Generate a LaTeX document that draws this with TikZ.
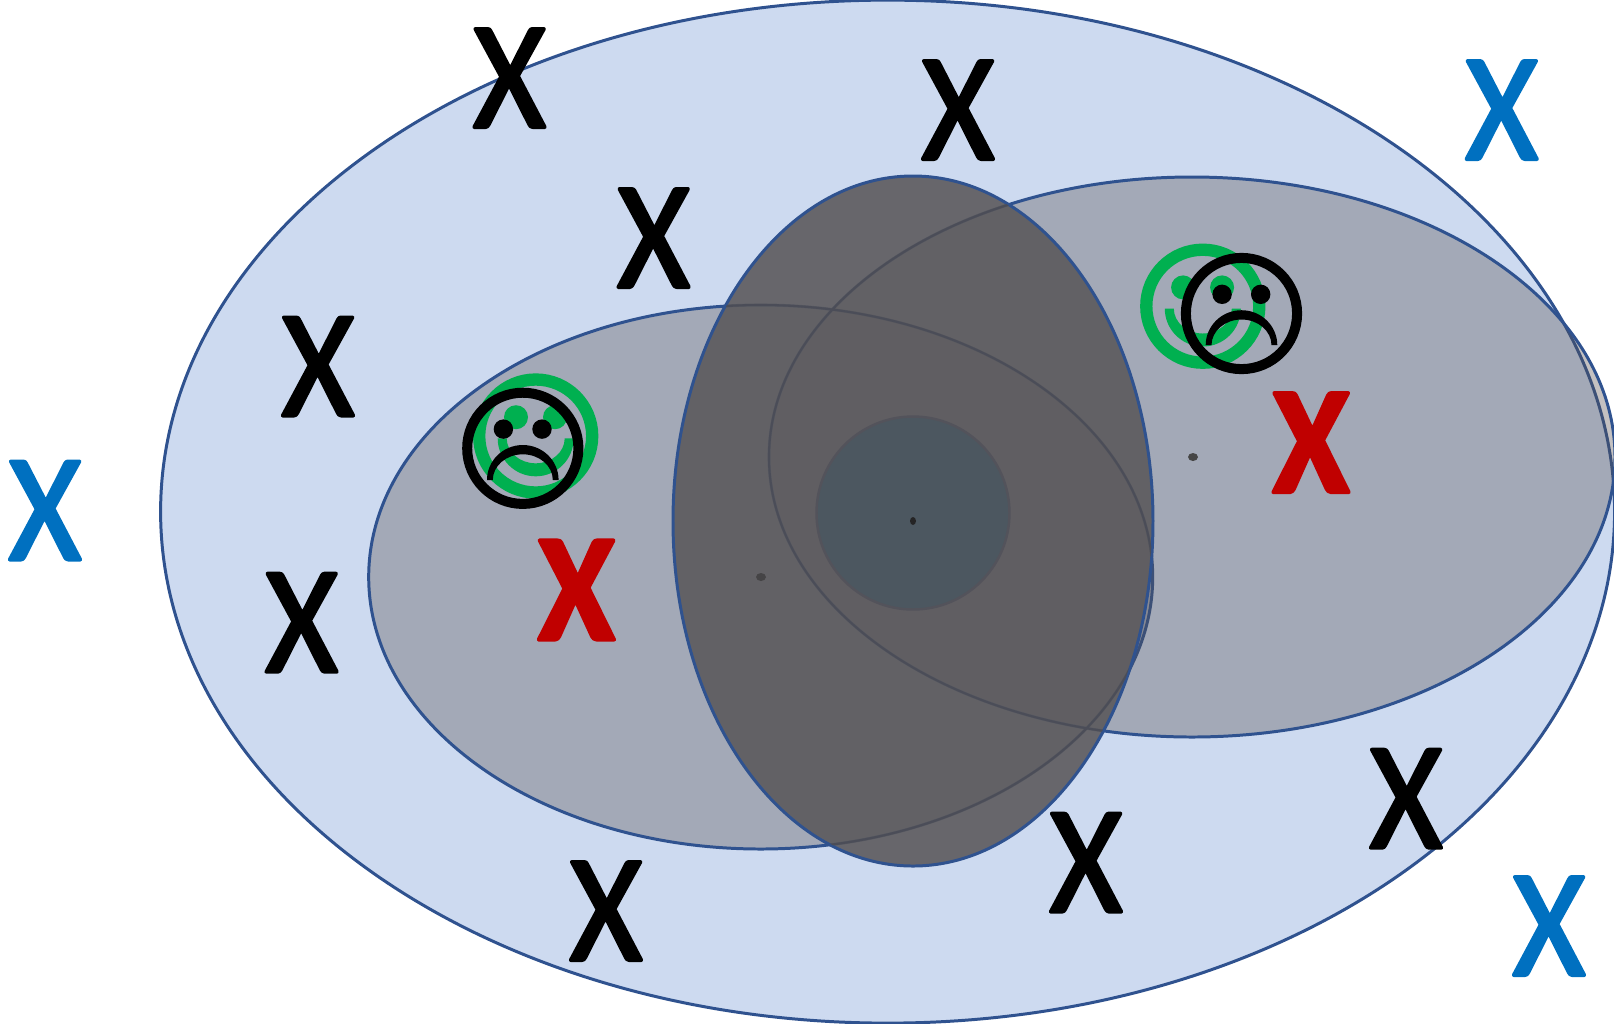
\documentclass[tikz,border=0pt]{standalone}
\usepackage{fontspec}
\setmainfont{Carlito}
\newfontfamily\markfont{Carlito}[FakeBold=2.5]
\newfontfamily\redfont{Carlito Bold}[FakeBold=2.5]
\usepackage{xcolor}
\definecolor{setline}{HTML}{2F528F}
\definecolor{setfill}{HTML}{CDDAF0}
\definecolor{markblue}{HTML}{0070C0}
\definecolor{markred}{HTML}{C00000}
\definecolor{facegreen}{HTML}{00B050}
\definecolor{shade}{HTML}{554E4D}
\definecolor{core}{HTML}{5C5A5D}
\definecolor{inner}{HTML}{204A5C}
\definecolor{hidden}{HTML}{4B4D58}
\usetikzlibrary{positioning}
\tikzset{
  region/.style={draw=setline,line width=0.85pt},
  shaded/.style={region,fill=shade,fill opacity=0.35},
  xmark/.style={inner sep=0pt,xscale=0.91,font=\fontsize{43.5}{43.5}\markfont\special{pdf:code 1 j}},
  xbold/.style={xmark,text=markred,font=\fontsize{43.5}{43.5}\redfont\special{pdf:code 1 j}},
  pics/happy/.style={code={
    \draw[facegreen,line width=3.5pt] (0,0) circle[radius=56.5];
    \fill[facegreen] (-19.7,-18.8) circle[radius=12] (19.3,-18.8) circle[radius=12];
    \fill[facegreen] (-38,2.3) arc[start angle=180,end angle=0,x radius=38,y radius=38]
      -- (29,2.3) arc[start angle=0,end angle=180,x radius=29,y radius=25] -- cycle;
  }},
  pics/sad/.style={code={
    \draw[black,line width=2.85pt] (0,0) circle[radius=55.6];
    \fill[black] (-19.4,-19.2) circle[radius=9.7] (19.2,-19.2) circle[radius=9.7];
    \fill[black] (-35.8,31.7) arc[start angle=180,end angle=360,x radius=35.8,y radius=35]
      -- (30,31.7) arc[start angle=360,end angle=180,x radius=30,y radius=25.7] -- cycle;
  }}
}
\begin{document}
\begin{tikzpicture}[x=0.01cm,y=-0.01cm]
\useasboundingbox (0,0) rectangle (1614,1023);
\clip (0,0) rectangle (1614,1023);
% sets
\draw[region,fill=setfill] (887.6,511.6) ellipse[x radius=727,y radius=511.5];
\draw[shaded] (760.7,577) ellipse[x radius=392,y radius=272];
\draw[shaded] (1192,457) ellipse[x radius=423,y radius=280];
\draw[region,fill=core,fill opacity=0.9] (913,521) ellipse[x radius=240,y radius=345];
\begin{scope}
  \clip (913,521) ellipse[x radius=239,y radius=344];
  \draw[hidden,line width=0.6pt] (760.7,577) ellipse[x radius=392,y radius=272];
  \draw[hidden,line width=0.6pt] (1192,457) ellipse[x radius=423,y radius=280];
\end{scope}
\draw[draw=hidden!50!core,line width=0.7pt,fill=inner,fill opacity=0.3] (913,513) circle[radius=96.5];
% centre points
\fill[black!25!core] (761,577) ellipse[x radius=5,y radius=4];
\fill[black!45!gray] (1193,457) ellipse[x radius=5,y radius=4];
\fill[black!60!core] (913,521) ellipse[x radius=3,y radius=4];
% faces
\pic at (535.7,436) {happy};
\pic at (522.8,448.3) {sad};
\pic at (1202.8,306.2) {happy};
\pic at (1241.5,313.5) {sad};
% outside marks
\foreach \i/\px/\py in {1/45/510.5,2/1501.7/110,3/1549/926}
  \node[xmark,text=markblue] (out\i) at (\px,\py) {X};
% marks inside the large set
\foreach \i/\px/\py in {1/509.5/78,2/958/110,3/653.6/238,4/318/366.5,5/301.6/622.7,6/1406/798.7,7/1086/862.6,8/606/911}
  \node[xmark] (in\i) at (\px,\py) {X};
\node[xbold] (redl) at (576.4,590) {X};
\node[xbold] (redr) at (1311,442.6) {X};
\end{tikzpicture}
\end{document}
